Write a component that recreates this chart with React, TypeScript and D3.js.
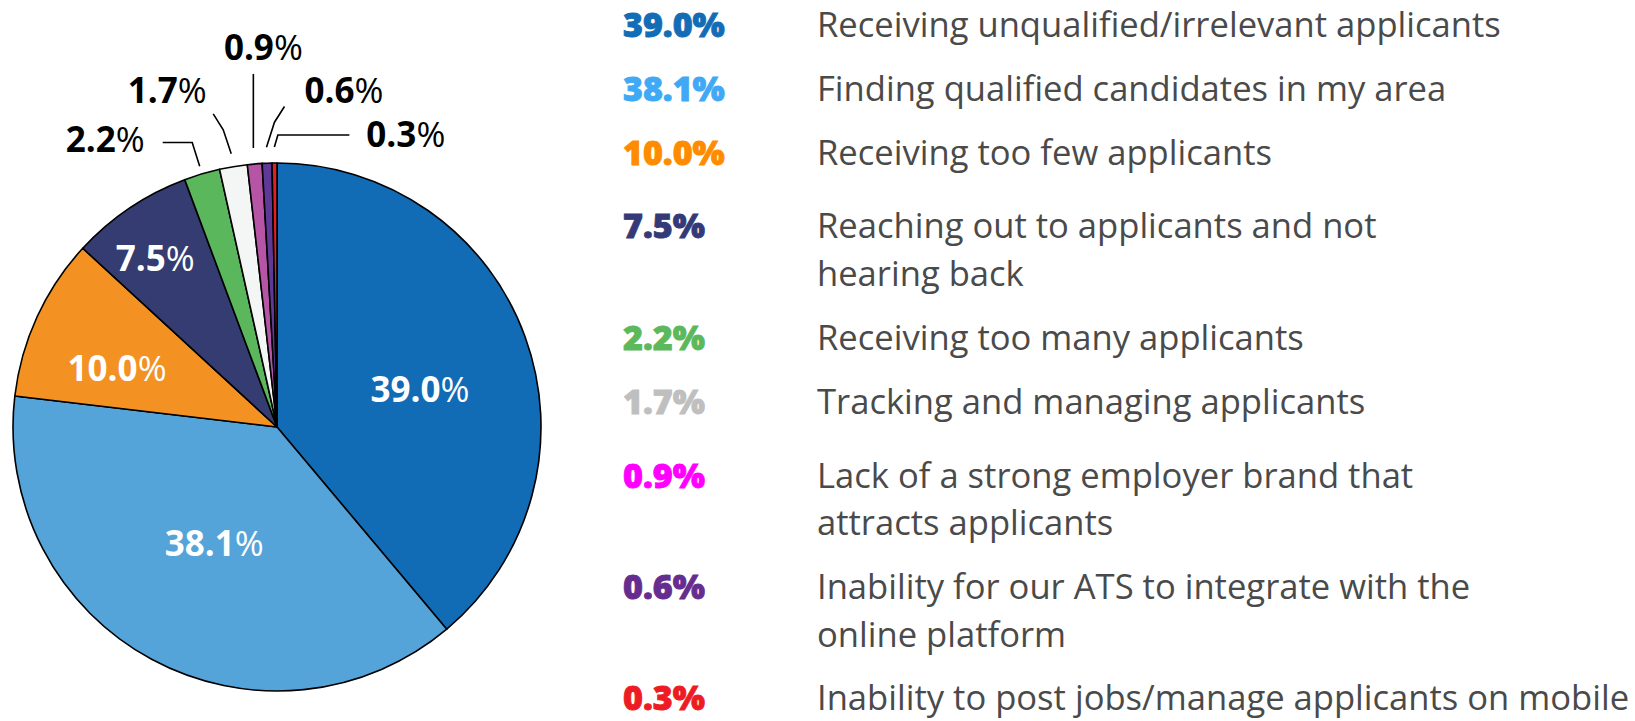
import React from "react";
import * as d3 from "d3";

// ---- data ----
const categories = [
  "Receiving unqualified/irrelevant applicants",
  "Finding qualified candidates in my area",
  "Receiving too few applicants",
  "Reaching out to applicants and not hearing back",
  "Receiving too many applicants",
  "Tracking and managing applicants",
  "Lack of a strong employer brand that attracts applicants",
  "Inability for our ATS to integrate with the online platform",
  "Inability to post jobs/manage applicants on mobile",
];
const legendLines = [
  ["Receiving unqualified/irrelevant applicants"],
  ["Finding qualified candidates in my area"],
  ["Receiving too few applicants"],
  ["Reaching out to applicants and not", "hearing back"],
  ["Receiving too many applicants"],
  ["Tracking and managing applicants"],
  ["Lack of a strong employer brand that", "attracts applicants"],
  ["Inability for our ATS to integrate with the", "online platform"],
  ["Inability to post jobs/manage applicants on mobile"],
];
const values = [39.0, 38.1, 10.0, 7.5, 2.2, 1.7, 0.9, 0.6, 0.3];
const valueLabels = ["39.0", "38.1", "10.0", "7.5", "2.2", "1.7", "0.9", "0.6", "0.3"];
const sliceColors = ["#126cb5", "#54a3d9", "#f39122", "#343c72", "#5bb75c", "#f4f6f5", "#b655a5", "#5e3996", "#e31e25"];
const legendColors = ["#136db6", "#3fa9f5", "#ff8c00", "#343a78", "#5cb85c", "#bfbfbf", "#ff00ff", "#662d91", "#ed1c24"];

// ---- layout ----
const W = 1635, H = 721;
const CX = 277, CY = 427, R = 264;
const FONT = "'Open Sans', sans-serif";
// inside labels: [radius fraction, angle tweak deg]
const insideLayout: Record<number, [number, number]> = {
  0: [0.56, 5.1],
  1: [0.5, 0],
  2: [0.645, -4.6],
  3: [0.788, -1.9],
};
// outside labels: start gap, leader legs (relative), label offset, anchor
const outsideLayout: Record<number, { gap: number; legs: [number, number][]; off: [number, number]; anchor: string }> = {
  4: { gap: 8, legs: [[-7.5, -23.7], [-29.5, 0]], off: [-18, 9], anchor: "end" },
  5: { gap: 13, legs: [[-8, -24], [-10, -16]], off: [-6.6, -11], anchor: "end" },
  6: { gap: 16, legs: [[0, -74]], off: [10, -14], anchor: "middle" },
  7: { gap: 16, legs: [[8, -25], [10, -15.7]], off: [20, -4], anchor: "start" },
  8: { gap: 16, legs: [[3.5, -12], [71.5, 0]], off: [17, 12], anchor: "start" },
};
const LEG_PCT_X = 623, LEG_TXT_X = 817;
const LEG_Y0 = 36.7, LEG_LINE = 47.5, LEG_GAP = 63.9;
const legendExtra = [0, 0, 0, 10, 0, 0, 10, 0, 0];

export default function App() {
  const pie = d3.pie<number>().value((d) => d).sort(null);
  const arcs = pie(values);
  const arc = d3.arc<d3.PieArcDatum<number>>().innerRadius(0).outerRadius(R);

  const polar = (angle: number, r: number): [number, number] => [
    Math.sin(angle) * r,
    -Math.cos(angle) * r,
  ];

  // legend y positions
  const legendY: number[] = [];
  let y = LEG_Y0;
  legendLines.forEach((lines, i) => {
    if (i > 0) {
      y += LEG_GAP + legendExtra[i];
    }
    legendY.push(y);
    y += (lines.length - 1) * LEG_LINE;
  });

  return (
    <svg
      width={W}
      height={H}
      style={{ position: "absolute", left: 0, top: 0, background: "#fff" }}
      fontFamily={FONT}
    >
      <g transform={`translate(${CX},${CY})`}>
        {arcs.map((a, i) => (
          <path key={i} d={arc(a) || ""} fill={sliceColors[i]} stroke="#000" strokeWidth={1.6} strokeLinejoin="round" />
        ))}
        {arcs.map((a, i) => {
          const lay = insideLayout[i];
          if (!lay) return null;
          const mid = (a.startAngle + a.endAngle) / 2 + (lay[1] * Math.PI) / 180;
          const [x, yy] = polar(mid, R * lay[0]);
          return (
            <text key={"in" + i} x={x} y={yy} dy="0.36em" textAnchor="middle" fill="#fff" fontSize={35}>
              <tspan fontWeight={700}>{valueLabels[i]}</tspan>
              <tspan fontWeight={400}>%</tspan>
            </text>
          );
        })}
        {arcs.map((a, i) => {
          const lay = outsideLayout[i];
          if (!lay) return null;
          const mid = (a.startAngle + a.endAngle) / 2;
          const start = polar(mid, R + lay.gap);
          const pts: [number, number][] = [start];
          let cur = start;
          lay.legs.forEach(([dx, dy]) => {
            cur = [cur[0] + dx, cur[1] + dy];
            pts.push(cur);
          });
          const line = d3.line()(pts) || "";
          return (
            <g key={"out" + i}>
              <path d={line} fill="none" stroke="#000" strokeWidth={1.6} />
              <text
                x={cur[0] + lay.off[0]}
                y={cur[1] + lay.off[1]}
                textAnchor={lay.anchor}
                fill="#000"
                fontSize={35}
              >
                <tspan fontWeight={700}>{valueLabels[i]}</tspan>
                <tspan fontWeight={400}>%</tspan>
              </text>
            </g>
          );
        })}
      </g>
      <g>
        {categories.map((c, i) => (
          <g key={"lg" + i}>
            <text
              x={LEG_PCT_X}
              y={legendY[i]}
              fill={legendColors[i]}
              stroke={legendColors[i]}
              strokeWidth={0.9}
              fontSize={34}
              fontWeight={800}
            >
              {valueLabels[i]}%
            </text>
            <text x={LEG_TXT_X} y={legendY[i]} fill="#4a4a4a" fontSize={34.6} fontWeight={400}>
              {legendLines[i].map((ln, j) => (
                <tspan key={j} x={LEG_TXT_X} y={legendY[i] + j * LEG_LINE}>
                  {ln}
                </tspan>
              ))}
            </text>
          </g>
        ))}
      </g>
    </svg>
  );
}
